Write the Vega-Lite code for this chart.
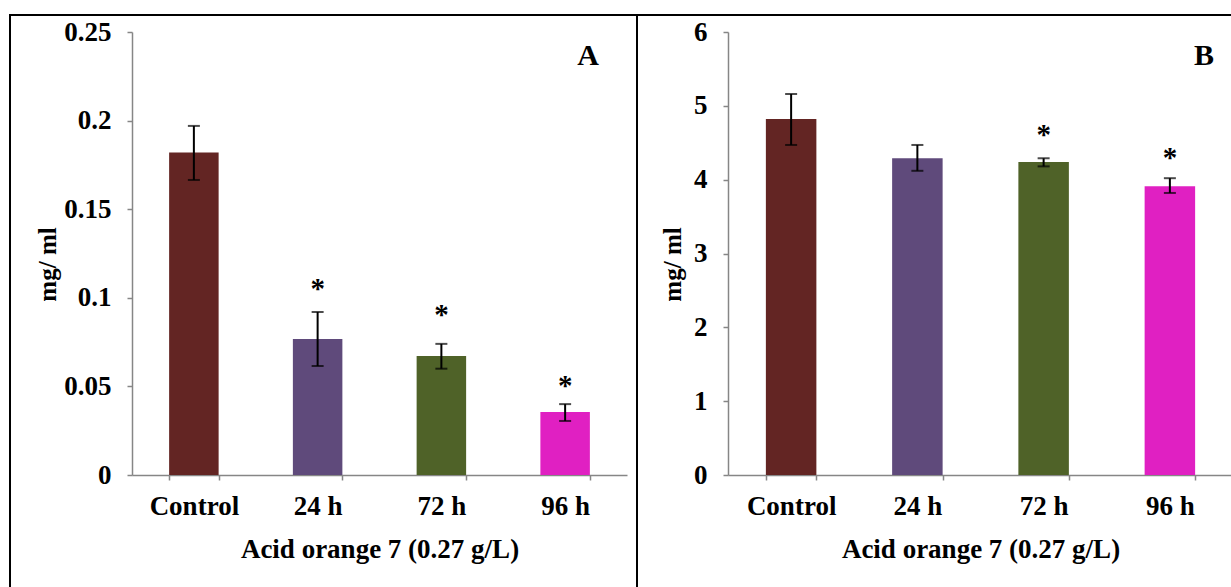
{
  "$schema": "https://vega.github.io/schema/vega-lite/v6.json",
  "padding": {"left": 9, "top": 14, "right": 0, "bottom": 0},
  "spacing": 0,
  "bounds": "flush",
  "config": {
    "view": {"stroke": "black", "strokeWidth": 2},
    "font": "Liberation Serif",
    "axis": {
      "grid": false,
      "domainColor": "#868686",
      "domainWidth": 1.5,
      "tickColor": "#868686",
      "tickWidth": 1.5,
      "tickSize": 5,
      "labelFont": "Liberation Serif",
      "labelFontWeight": "bold",
      "labelFontSize": 27,
      "labelColor": "black",
      "titleFont": "Liberation Serif",
      "titleFontWeight": "bold",
      "titleColor": "black"
    }
  },
  "datasets": {
    "A": [
      {"cat": "Control", "mean": 0.182, "lo": 0.1665, "hi": 0.197, "star": null},
      {"cat": "24 h", "mean": 0.0767, "lo": 0.0615, "hi": 0.092, "star": 0.106},
      {"cat": "72 h", "mean": 0.0672, "lo": 0.060, "hi": 0.074, "star": 0.0914},
      {"cat": "96 h", "mean": 0.0355, "lo": 0.0305, "hi": 0.040, "star": 0.0514}
    ],
    "B": [
      {"cat": "Control", "mean": 4.82, "lo": 4.47, "hi": 5.16, "star": null},
      {"cat": "24 h", "mean": 4.29, "lo": 4.12, "hi": 4.47, "star": null},
      {"cat": "72 h", "mean": 4.24, "lo": 4.18, "hi": 4.29, "star": 4.636},
      {"cat": "96 h", "mean": 3.91, "lo": 3.82, "hi": 4.02, "star": 4.32}
    ]
  },
  "hconcat": [
    {
      "width": 627,
      "height": 573,
      "data": {"name": "A"},
      "layer": [
        {
          "mark": {"type": "bar"},
          "encoding": {
            "x": {
              "field": "cat", "type": "nominal",
              "scale": {"domain": ["Control", "24 h", "72 h", "96 h"], "range": [122, 617], "paddingInner": 0.6, "paddingOuter": 0.3},
              "axis": {
                "orient": "bottom", "offset": -113, "labelAngle": 0, "labelPadding": 13,
                "tickBand": "extent",
                "title": "Acid orange 7 (0.27 g/L)", "titleFontSize": 27,
                "titleY": 74, "titleBaseline": "middle"
              }
            },
            "y": {
              "field": "mean", "type": "quantitative",
              "scale": {"domain": [0, 0.25], "range": [460, 17], "nice": false, "zero": true},
              "axis": {
                "orient": "left", "offset": -122, "values": [0, 0.05, 0.1, 0.15, 0.2, 0.25],
                "format": ".2~f", "labelPadding": 16,
                "title": "mg/ ml", "titleFontSize": 25, "titleX": -85, "titleY": 249,
                "titleBaseline": "middle", "titleAngle": -90
              }
            },
            "color": {
              "field": "cat", "type": "nominal", "legend": null,
              "scale": {"domain": ["Control", "24 h", "72 h", "96 h"], "range": ["#632523", "#5F4A7B", "#4F6228", "#E020C2"]}
            }
          }
        },
        {
          "mark": {"type": "rule", "color": "black", "strokeWidth": 2},
          "encoding": {
            "x": {"field": "cat", "type": "nominal"},
            "y": {"field": "lo", "type": "quantitative"},
            "y2": {"field": "hi"}
          }
        },
        {
          "mark": {"type": "tick", "color": "black", "thickness": 2, "size": 12, "orient": "horizontal"},
          "encoding": {
            "x": {"field": "cat", "type": "nominal"},
            "y": {"field": "lo", "type": "quantitative"}
          }
        },
        {
          "mark": {"type": "tick", "color": "black", "thickness": 2, "size": 12, "orient": "horizontal"},
          "encoding": {
            "x": {"field": "cat", "type": "nominal"},
            "y": {"field": "hi", "type": "quantitative"}
          }
        },
        {
          "transform": [{"filter": "datum.star != null"}],
          "mark": {"type": "text", "text": "*", "fontSize": 29, "fontWeight": "bold", "font": "Liberation Serif", "baseline": "alphabetic", "dy": 11, "color": "black"},
          "encoding": {
            "x": {"field": "cat", "type": "nominal"},
            "y": {"field": "star", "type": "quantitative"}
          }
        },
        {
          "data": {"values": [{"label": "A", "cat": "96 h", "pos": 0.2365}]},
          "mark": {"type": "text", "fontSize": 30, "fontWeight": "bold", "font": "Liberation Serif", "baseline": "middle", "dx": 23, "color": "black"},
          "encoding": {
            "x": {"field": "cat", "type": "nominal"},
            "y": {"field": "pos", "type": "quantitative"},
            "text": {"field": "label"}
          }
        }
      ]
    },
    {
      "width": 595,
      "height": 573,
      "data": {"name": "B"},
      "layer": [
        {
          "mark": {"type": "bar"},
          "encoding": {
            "x": {
              "field": "cat", "type": "nominal",
              "scale": {"domain": ["Control", "24 h", "72 h", "96 h"], "range": [91, 596], "paddingInner": 0.6, "paddingOuter": 0.3},
              "axis": {
                "orient": "bottom", "offset": -113, "labelAngle": 0, "labelPadding": 13,
                "tickBand": "extent",
                "title": "Acid orange 7 (0.27 g/L)", "titleFontSize": 27,
                "titleY": 74, "titleBaseline": "middle"
              }
            },
            "y": {
              "field": "mean", "type": "quantitative",
              "scale": {"domain": [0, 6], "range": [460, 17], "nice": false, "zero": true},
              "axis": {
                "orient": "left", "offset": -91, "values": [0, 1, 2, 3, 4, 5, 6],
                "format": "d", "labelPadding": 16,
                "title": "mg/ ml", "titleFontSize": 25, "titleX": -56, "titleY": 249,
                "titleBaseline": "middle", "titleAngle": -90
              }
            },
            "color": {
              "field": "cat", "type": "nominal", "legend": null,
              "scale": {"domain": ["Control", "24 h", "72 h", "96 h"], "range": ["#632523", "#5F4A7B", "#4F6228", "#E020C2"]}
            }
          }
        },
        {
          "mark": {"type": "rule", "color": "black", "strokeWidth": 2},
          "encoding": {
            "x": {"field": "cat", "type": "nominal"},
            "y": {"field": "lo", "type": "quantitative"},
            "y2": {"field": "hi"}
          }
        },
        {
          "mark": {"type": "tick", "color": "black", "thickness": 2, "size": 12, "orient": "horizontal"},
          "encoding": {
            "x": {"field": "cat", "type": "nominal"},
            "y": {"field": "lo", "type": "quantitative"}
          }
        },
        {
          "mark": {"type": "tick", "color": "black", "thickness": 2, "size": 12, "orient": "horizontal"},
          "encoding": {
            "x": {"field": "cat", "type": "nominal"},
            "y": {"field": "hi", "type": "quantitative"}
          }
        },
        {
          "transform": [{"filter": "datum.star != null"}],
          "mark": {"type": "text", "text": "*", "fontSize": 29, "fontWeight": "bold", "font": "Liberation Serif", "baseline": "alphabetic", "dy": 11, "color": "black"},
          "encoding": {
            "x": {"field": "cat", "type": "nominal"},
            "y": {"field": "star", "type": "quantitative"}
          }
        },
        {
          "data": {"values": [{"label": "B", "cat": "96 h", "pos": 5.675}]},
          "mark": {"type": "text", "fontSize": 30, "fontWeight": "bold", "font": "Liberation Serif", "baseline": "middle", "dx": 34, "color": "black"},
          "encoding": {
            "x": {"field": "cat", "type": "nominal"},
            "y": {"field": "pos", "type": "quantitative"},
            "text": {"field": "label"}
          }
        }
      ]
    }
  ]
}
